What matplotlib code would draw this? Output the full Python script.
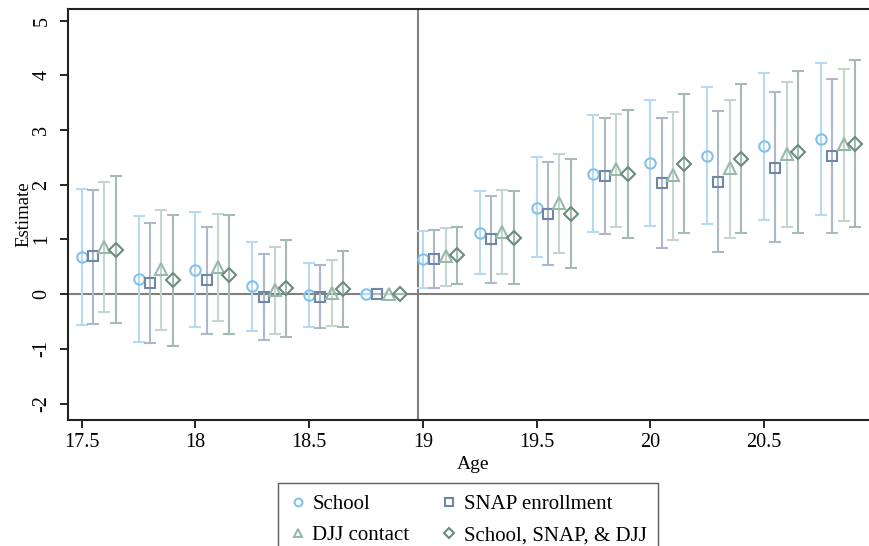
import numpy as np
import matplotlib
matplotlib.use('Agg')
import matplotlib.pyplot as plt

# ages (x) and estimates with confidence bounds
ages = [17.5, 17.75, 18.0, 18.25, 18.5, 18.75, 19.0, 19.25, 19.5, 19.75, 20.0, 20.25, 20.5, 20.75]

school_est = [0.67, 0.27, 0.45, 0.15, -0.02, 0.0, 0.64, 1.12, 1.58, 2.20, 2.39, 2.53, 2.71, 2.84]
school_lo = [-0.57, -0.88, -0.60, -0.67, -0.60, 0.0, 0.11, 0.36, 0.67, 1.13, 1.24, 1.29, 1.36, 1.44]
school_hi = [1.92, 1.42, 1.51, 0.96, 0.57, 0.0, 1.16, 1.89, 2.50, 3.27, 3.54, 3.78, 4.04, 4.23]

snap_est = [0.69, 0.20, 0.26, -0.06, -0.05, 0.0, 0.65, 1.01, 1.47, 2.16, 2.03, 2.05, 2.31, 2.52]
snap_lo = [-0.54, -0.90, -0.72, -0.84, -0.62, 0.0, 0.12, 0.21, 0.54, 1.10, 0.84, 0.77, 0.96, 1.11]
snap_hi = [1.91, 1.30, 1.23, 0.74, 0.54, 0.0, 1.17, 1.80, 2.41, 3.21, 3.22, 3.34, 3.69, 3.94]

djj_est = [0.87, 0.46, 0.50, 0.07, 0.03, 0.0, 0.69, 1.14, 1.67, 2.29, 2.18, 2.31, 2.56, 2.74]
djj_lo = [-0.33, -0.65, -0.49, -0.73, -0.58, 0.0, 0.15, 0.36, 0.75, 1.22, 0.99, 1.03, 1.22, 1.34]
djj_hi = [2.05, 1.54, 1.47, 0.86, 0.62, 0.0, 1.20, 1.91, 2.57, 3.30, 3.32, 3.55, 3.88, 4.11]

comb_est = [0.81, 0.25, 0.35, 0.11, 0.10, 0.0, 0.71, 1.03, 1.47, 2.19, 2.38, 2.47, 2.59, 2.75]
comb_lo = [-0.52, -0.95, -0.73, -0.78, -0.60, 0.0, 0.18, 0.19, 0.47, 1.02, 1.11, 1.11, 1.12, 1.22]
comb_hi = [2.15, 1.44, 1.44, 0.99, 0.78, 0.0, 1.23, 1.88, 2.47, 3.36, 3.65, 3.84, 4.07, 4.28]

labels = ['School', 'SNAP enrollment', 'DJJ contact', 'School, SNAP, & DJJ']

plt.rcParams['font.family'] = ['Liberation Serif', 'DejaVu Serif']
plt.rcParams['axes.unicode_minus'] = False

fig = plt.figure(figsize=(8.69, 5.46), dpi=100)
ax = fig.add_axes([68 / 869, 1 - 420 / 546, 1 - 68 / 869 + 0.01, (420 - 8.5) / 546])

series = [
    (school_est, school_lo, school_hi, 0.00, 'o', '#85c1e9', '#b7daf3', 7.5, labels[0]),
    (snap_est, snap_lo, snap_hi, 0.05, 's', '#7088a6', '#adb9ca', 7.0, labels[1]),
    (djj_est, djj_lo, djj_hi, 0.10, '^', '#98b8aa', '#c4d6cd', 8.0, labels[2]),
    (comb_est, comb_lo, comb_hi, 0.15, 'D', '#6b8c7c', '#a5bbb0', 7.0, labels[3]),
]

ax.axhline(0, color='#808080', lw=1.5, zorder=1)
ax.axvline(18.977, color='#808080', lw=1.5, zorder=1)

handles = {}
for est, lo, hi, off, mk, mcol, ecol, ms, lab in series:
    x = np.array(ages) + off
    est = np.array(est)
    yerr = [est - np.array(lo), np.array(hi) - est]
    ax.errorbar(x, est, yerr=yerr, fmt='none', ecolor=ecol, elinewidth=1.5,
                capsize=4.5, capthick=1.5, zorder=2)
    h, = ax.plot(x, est, linestyle='none', marker=mk, markersize=ms,
                 markerfacecolor='none', markeredgecolor=mcol, markeredgewidth=1.5,
                 zorder=3, label=lab)
    handles[lab] = h

ax.set_xlim(17.44, 21.0)
ax.set_ylim(-2.30, 5.22)
ax.set_xticks([17.5, 18, 18.5, 19, 19.5, 20, 20.5])
ax.set_xticklabels(['17.5', '18', '18.5', '19', '19.5', '20', '20.5'])
ax.set_yticks(range(-2, 6))
ax.tick_params(axis='both', direction='out', length=6, width=1.2, labelsize=14.5)
ax.tick_params(axis='y', pad=6)
for t in ax.get_yticklabels():
    t.set_rotation(90)
    t.set_va('center')
ax.spines['right'].set_visible(False)
for s in ['left', 'bottom', 'top']:
    ax.spines[s].set_linewidth(1.5)
    ax.spines[s].set_color('#222222')

ax.set_xlabel('Age', fontsize=14, labelpad=3)
ax.set_ylabel('Estimate', fontsize=13.5, labelpad=0)

leg_order = [labels[0], labels[2], labels[1], labels[3]]
leg = fig.legend([handles[l] for l in leg_order], leg_order, ncol=2,
                 loc='upper center', bbox_to_anchor=(468 / 869, 1 - 483 / 546),
                 borderaxespad=0, fontsize=15, frameon=True, fancybox=False,
                 edgecolor='#333333', markerscale=0.75, handlelength=0.8,
                 handletextpad=0.3, columnspacing=1.5, labelspacing=0.55,
                 borderpad=0.55)
leg.get_frame().set_linewidth(1.0)

fig.savefig('out.png', dpi=100)
